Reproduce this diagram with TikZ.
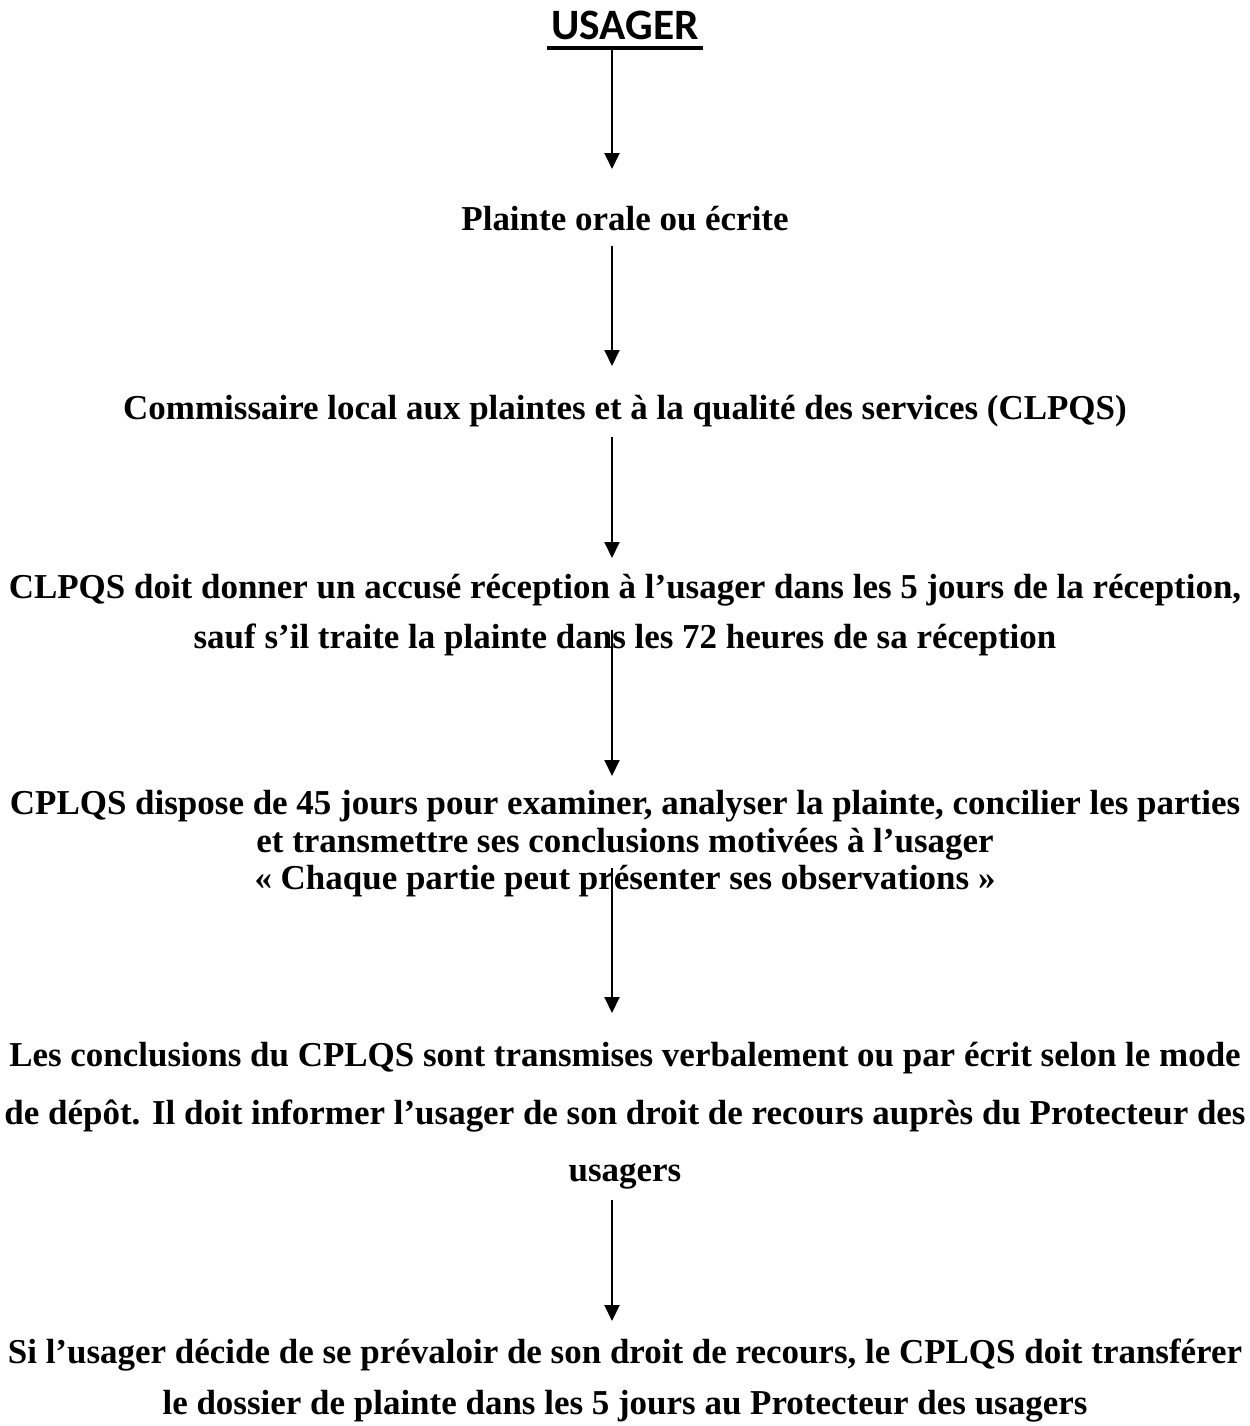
\documentclass[tikz,border=0pt]{standalone}
\usepackage{fontspec}
\setmainfont{Liberation Serif}
\newfontfamily\titlefont{Carlito}
\usetikzlibrary{arrows.meta}
\begin{document}
\begin{tikzpicture}[x=0.02cm,y=-0.02cm,
  txt/.style={anchor=base,inner sep=0pt,font=\bfseries\fontsize{19.9}{24}\selectfont},
  ttl/.style={anchor=base,inner sep=0pt,font=\titlefont\bfseries\fontsize{24.7}{30}\selectfont},
  arr/.style={line width=0.04cm,-{Triangle[length=0.32cm,width=0.3cm]}}]
\useasboundingbox (0,0) rectangle (1250,1426);
\fill[white] (0,0) rectangle (1250,1426);

\node[ttl] (usager) at (625,40) {USAGER};
\draw[line width=0.08cm] (547,48) -- (703,48);

\node[txt] (plainte) at (625,230) {Plainte orale ou écrite};
\node[txt] (clpqs) at (625,419) {Commissaire local aux plaintes et à la qualité des services (CLPQS)};
\node[txt] (p2a) at (625,598) {CLPQS doit donner un accusé réception à l’usager dans les 5 jours de la réception,};
\node[txt] (p2b) at (625,648) {sauf s’il traite la plainte dans les 72 heures de sa réception};
\node[txt] (p3a) at (625,814) {CPLQS dispose de 45 jours pour examiner, analyser la plainte, concilier les parties};
\node[txt] (p3b) at (625,852) {et transmettre ses conclusions motivées à l’usager};
\node[txt] (p3c) at (625,889) {« Chaque partie peut présenter ses observations »};
\node[txt] (p4a) at (625,1066) {Les conclusions du CPLQS sont transmises verbalement ou par écrit selon le mode};
\node[txt] (p4b) at (625,1124) {de dépôt. Il doit informer l’usager de son droit de recours auprès du Protecteur des};
\node[txt] (p4c) at (625,1181) {usagers};
\node[txt] (p5a) at (625,1363) {Si l’usager décide de se prévaloir de son droit de recours, le CPLQS doit transférer};
\node[txt] (p5b) at (625,1414) {le dossier de plainte dans les 5 jours au Protecteur des usagers};

\coordinate (a1s) at (612,48);   \coordinate (a1e) at (612,169);
\coordinate (a2s) at (612,246);  \coordinate (a2e) at (612,366);
\coordinate (a3s) at (612,437);  \coordinate (a3e) at (612,558);
\coordinate (a4s) at (612,630);  \coordinate (a4e) at (612,776);
\coordinate (a5s) at (612,868);  \coordinate (a5e) at (612,1013);
\coordinate (a6s) at (612,1200); \coordinate (a6e) at (612,1321);

\draw[arr] (a1s) -- (a1e);
\draw[arr] (a2s) -- (a2e);
\draw[arr] (a3s) -- (a3e);
\draw[arr] (a4s) -- (a4e);
\draw[arr] (a5s) -- (a5e);
\draw[arr] (a6s) -- (a6e);
\end{tikzpicture}
\end{document}
